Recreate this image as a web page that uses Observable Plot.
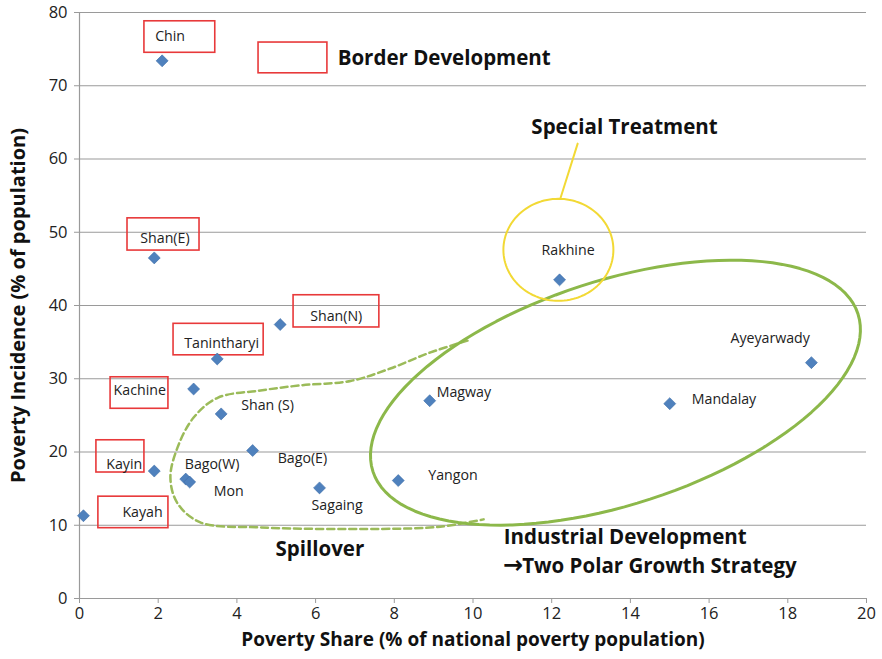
<!DOCTYPE html>
<html>
<head>
<meta charset="utf-8">
<script src="https://cdn.jsdelivr.net/npm/d3@7"></script>
<script src="https://cdn.jsdelivr.net/npm/@observablehq/plot@0.6"></script>
<style>
  html, body { margin: 0; padding: 0; background: #fff; }
  #chart { width: 882px; height: 659px; }
</style>
</head>
<body>
<div id="chart"></div>
<script>
// ---- Data ----
const regions = ["Chin","Shan(E)","Shan(N)","Tanintharyi","Kachine","Shan (S)","Bago(E)","Kayin","Bago(W)","Mon","Sagaing","Kayah","Yangon","Magway","Mandalay","Ayeyarwady","Rakhine"];
const povertyShare = [2.1, 1.9, 5.1, 3.5, 2.9, 3.6, 4.4, 1.9, 2.7, 2.8, 6.1, 0.1, 8.1, 8.9, 15.0, 18.6, 12.2];
const povertyIncidence = [73.4, 46.5, 37.4, 32.7, 28.6, 25.2, 20.2, 17.4, 16.3, 15.9, 15.1, 11.3, 16.1, 27.0, 26.6, 32.2, 43.5];
const xTicks = [0, 2, 4, 6, 8, 10, 12, 14, 16, 18, 20];
const yTicks = [0, 10, 20, 30, 40, 50, 60, 70, 80];
const xTitle = "Poverty Share (% of national poverty population)";
const yTitle = "Poverty Incidence (% of population)";

// ---- Annotations ----
// label offsets in px from each point: [dx, dy]
const labelOffsets = [[-7,-24],[-14,-19],[30,-8],[-33,-16],[-80,1],[20,-8],[25,8],[-48,-7],[-1,-15],[24,9],[-8,18],[39,-3],[30,-5],[7,-8],[22,-4],[-81,-24],[-18,-29]];
// red boxes (data units): [x1, x2, y1, y2]
const boxes = [
  [1.65, 3.45, 74.5, 78.8],   // Chin
  [4.55, 6.30, 71.7, 75.9],   // legend key
  [1.22, 3.05, 47.5, 51.9],   // Shan(E)
  [5.44, 7.62, 37.0, 41.4],   // Shan(N)
  [2.39, 4.68, 33.2, 37.5],   // Tanintharyi
  [0.79, 2.26, 25.9, 30.2],   // Kachine
  [0.43, 1.65, 17.2, 21.6],   // Kayin
  [0.48, 2.26, 9.6, 13.9]     // Kayah
];
const spillX = [9.86, 8.92, 7.90, 6.89, 5.62, 4.60, 3.51, 2.90, 2.49, 2.31, 2.49, 3.07, 4.60, 7.65, 9.17, 10.27];
const spillY = [35.2, 33.6, 31.4, 29.7, 29.1, 28.4, 27.4, 24.7, 20.6, 16.5, 13.0, 10.4, 9.7, 9.5, 9.8, 10.8];
// ellipses: center (data units), semi-axes (px), tilt (deg)
const industrialEllipse = {cx: 13.62, cy: 28.1, a: 255, b: 112, tilt: 18};
const specialEllipse = {cx: 12.17, cy: 47.6, a: 55, b: 51, tilt: 0};
const pointerX = [12.66, 12.22];
const pointerY = [62.1, 54.6];
const notes = [
  {t: "Border Development", x: 6.56, y: 73.7, anchor: "start"},
  {t: "Special Treatment", x: 13.85, y: 64.3, anchor: "middle"},
  {t: "Spillover", x: 4.98, y: 6.7, anchor: "start"},
  {t: "Industrial Development", x: 10.78, y: 8.3, anchor: "start"},
  {t: "Two Polar Growth Strategy", x: 11.25, y: 4.4, anchor: "start"}
];
const arrowNote = {t: "\u2192", x: 10.76, y: 4.5};

// ---- Layout ----
const W = 882, H = 659, ML = 79, MR = 16, MT = 12, MB = 61;
const kx = (W - ML - MR) / 20, ky = (H - MT - MB) / 80;
const FONT = "'Open Sans', 'Noto Sans', sans-serif";

const points = regions.map((r, i) => ({name: r, x: povertyShare[i], y: povertyIncidence[i], dx: labelOffsets[i][0], dy: labelOffsets[i][1]}));
const boxData = boxes.map(b => ({x1: b[0], x2: b[1], y1: b[2], y2: b[3]}));
const spill = spillX.map((x, i) => ({x, y: spillY[i]}));
function ellipse(e) {
  const phi = e.tilt * Math.PI / 180, pts = [];
  for (let k = 0; k < 120; k++) {
    const t = 2 * Math.PI * k / 120;
    const dxp = e.a * Math.cos(t) * Math.cos(phi) - e.b * Math.sin(t) * Math.sin(phi);
    const dyp = e.a * Math.cos(t) * Math.sin(phi) + e.b * Math.sin(t) * Math.cos(phi);
    pts.push({x: e.cx + dxp / kx, y: e.cy + dyp / ky});
  }
  return pts;
}
const pointer = pointerX.map((x, i) => ({x, y: pointerY[i]}));

const labelMarks = points.map(p => Plot.text([p], {
  x: "x", y: "y", text: "name", dx: p.dx, dy: p.dy, textAnchor: "start",
  fontSize: 14.2, fill: "#222", fontFamily: FONT
}));

const chart = Plot.plot({
  width: W, height: H,
  marginLeft: ML, marginRight: MR, marginTop: MT, marginBottom: MB,
  style: {fontFamily: FONT, background: "#fff", overflow: "visible"},
  x: {domain: [0, 20]},
  y: {domain: [0, 80]},
  marks: [
    Plot.gridY(yTicks.filter(v => v > 0), {stroke: "#9a9a9a", strokeOpacity: 1, strokeWidth: 1.2}),
    Plot.ruleX([0], {stroke: "#9a9a9a", strokeWidth: 1.2}),
    Plot.ruleY([0], {stroke: "#9a9a9a", strokeWidth: 1.2}),
    Plot.axisX({ticks: xTicks, tickSize: 5, tickPadding: 4, fontSize: 16.5, label: null, stroke: "#9a9a9a", color: "#222"}),
    Plot.axisY({ticks: yTicks, tickSize: 5, tickPadding: 7, fontSize: 16.5, label: null, stroke: "#9a9a9a", color: "#222"}),
    Plot.rect(boxData, {x1: "x1", x2: "x2", y1: "y1", y2: "y2", stroke: "#e8393a", strokeWidth: 1.6, fill: "none"}),
    Plot.line(spill, {x: "x", y: "y", curve: "catmull-rom", stroke: "#9bbb59", strokeWidth: 2.5, strokeDasharray: "7,4"}),
    Plot.line(ellipse(industrialEllipse), {x: "x", y: "y", curve: "linear-closed", stroke: "#8cb84a", strokeWidth: 3}),
    Plot.line(ellipse(specialEllipse), {x: "x", y: "y", curve: "linear-closed", stroke: "#f2d935", strokeWidth: 2}),
    Plot.line(pointer, {x: "x", y: "y", stroke: "#f2d935", strokeWidth: 2}),
    Plot.dot(points, {x: "x", y: "y", symbol: "diamond2", r: 5.4, fill: "#4f81bd", stroke: "#3d6da8", strokeWidth: 0.6}),
    ...labelMarks,
    ...notes.map(n => Plot.text([n], {x: "x", y: "y", text: "t", textAnchor: n.anchor, fontSize: 20.5, fontWeight: "bold", fill: "#111", fontFamily: FONT})),
    Plot.text([arrowNote], {x: "x", y: "y", text: "t", textAnchor: "start", fontSize: 24, fontWeight: "bold", fill: "#111", fontFamily: "'DejaVu Sans', sans-serif"}),
    Plot.text([xTitle], {frameAnchor: "bottom", dy: 47, fontSize: 19, fontWeight: "bold", fill: "#111", fontFamily: FONT}),
    Plot.text([yTitle], {frameAnchor: "left", textAnchor: "middle", dx: -61, rotate: -90, fontSize: 20, fontWeight: "bold", fill: "#111", fontFamily: FONT})
  ]
});
document.getElementById("chart").appendChild(chart);
</script>
</body>
</html>
